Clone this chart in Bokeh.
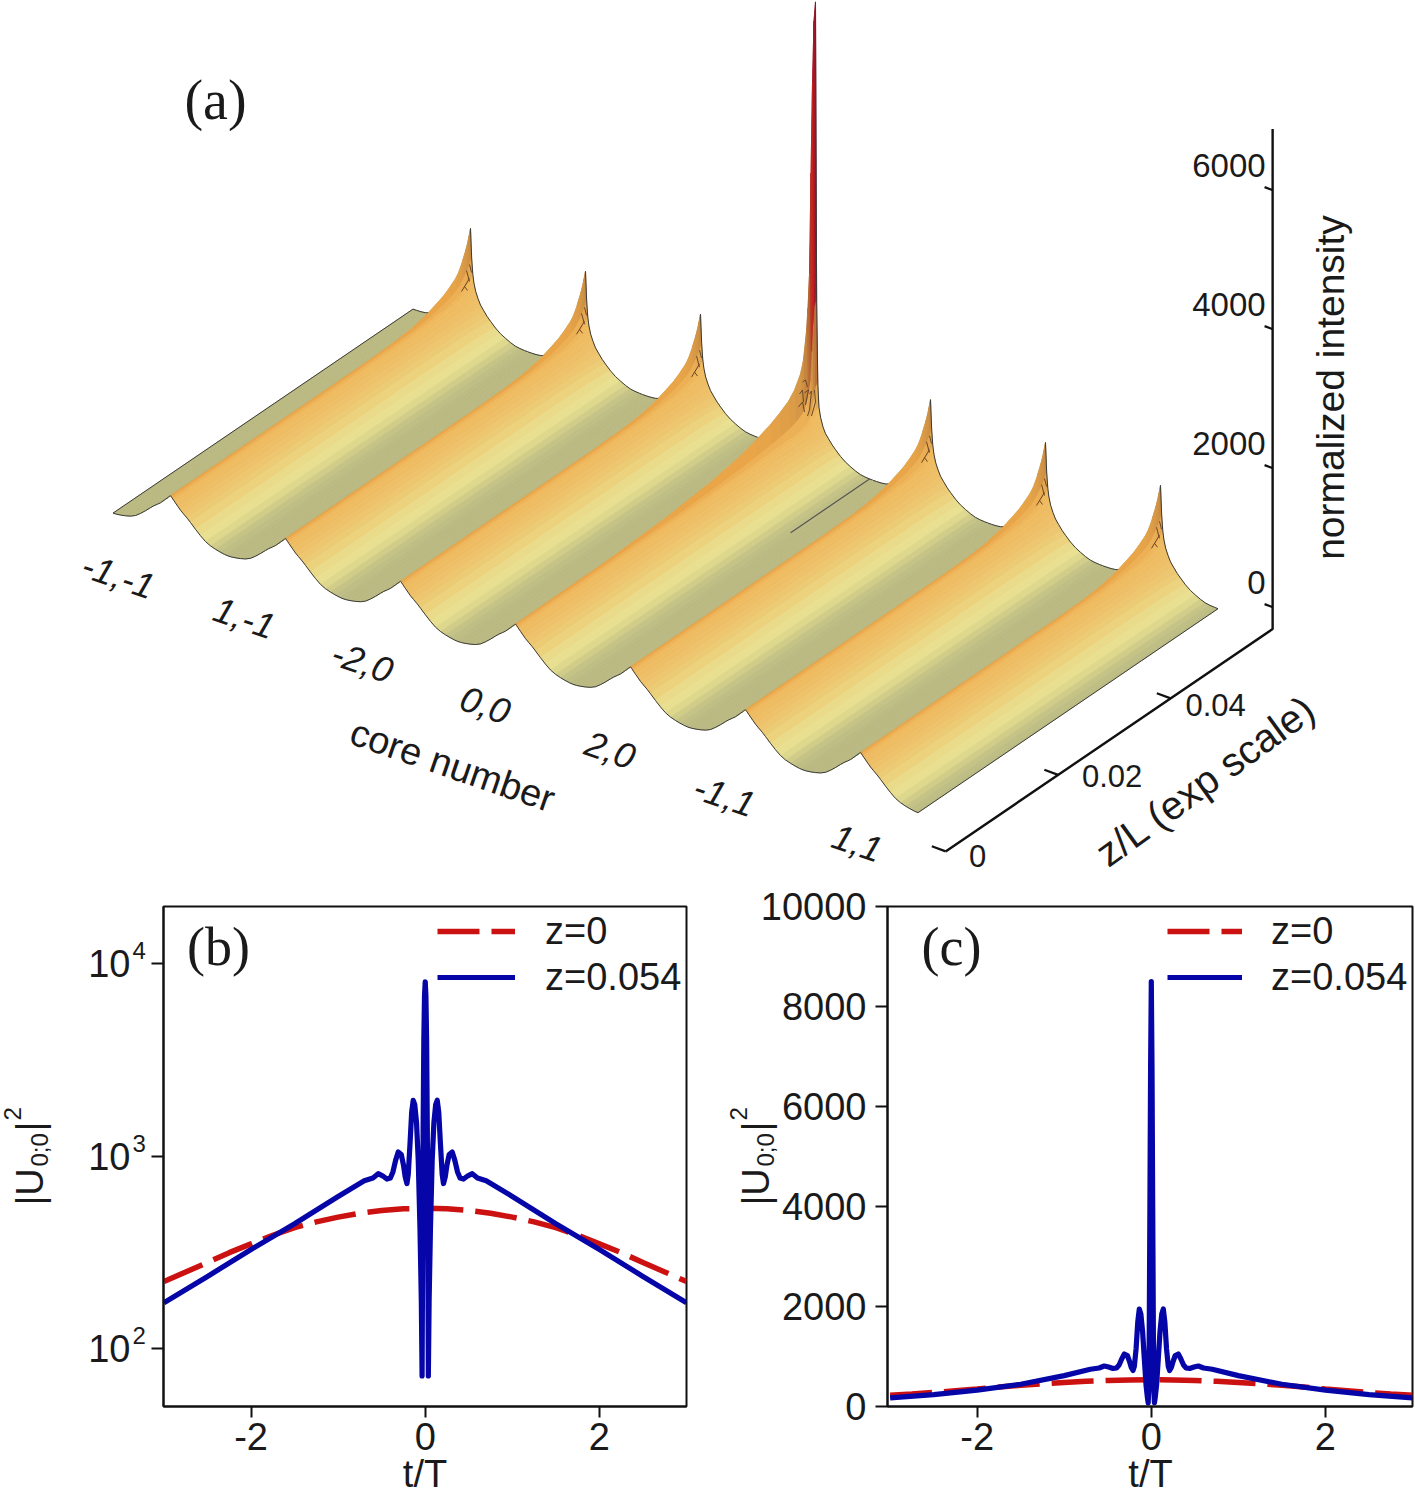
import math
from bokeh.plotting import figure
from bokeh.layouts import column, row
from bokeh.models import Range1d, FixedTicker, Legend, LegendItem, ColumnDataSource
from bokeh.core.properties import value
from bokeh.embed import file_html
from bokeh.resources import INLINE

# ------------------------- DATA -------------------------
core_labels = ["-1,-1", "1,-1", "-2,0", "0,0", "2,0", "-1,1", "1,1"]
intensity_ticks = [0, 2000, 4000, 6000]
z_ticks = [0, 0.02, 0.04]
z_tick_labels = ["0", "0.02", "0.04"]

# core profile across one core (offset from core centre), read from the surface
u_grid = [0, .01, .02, .03, .045, .065, .087, .113, .145, .174, .217, .26, .304, .348, .39, .43, .47, .5]
front_profile = [560, 542, 524, 505, 478, 442, 403, 367, 324, 279, 209, 144, 86, 50, 29, 14, 3, 0]
rear_profile = [1468, 1050, 820, 700, 590, 500, 420, 360, 290, 240, 170, 115, 75, 40, 15, 5, 1, 0]
rear_profile_centre = [6575, 2300, 1100, 763, 620, 500, 417, 360, 290, 240, 170, 115, 75, 40, 15, 5, 1, 0]
# growth of the crest along z
f_grid = [0, .3, .5, .65, .75, .8, .85, .88, .91, .93, .95, .96, .97, .975, .98, .985, .99, .995, 1]
crest_rise = [0, 0, 0, 4, 19, 43, 94, 144, 201, 259, 331, 388, 475, 532, 590, 647, 719, 806, 906]
crest_rise_centre = [0, 14, 58, 130, 216, 288, 374, 446, 532, 633, 806, 978, 1360, 1680, 2158, 3597, 4892, 5755, 6015]
slope_colors = ["#e9a548", "#edb055", "#efb85c", "#efbb60", "#eebd63", "#eebf66", "#eec26a", "#edc66f", "#eccb75",
                "#ecd27d", "#eadb8a", "#e8e090", "#ded88d", "#d1cd89", "#c5c386", "#bfbe84", "#bcbb83", "#bab982"]
trough_color = "#bab982"
height_stops = [740, 1150, 1500, 2000, 2400, 3500, 4800, 5600, 6600]
height_colors = [None, "#cd9145", "#bc7338", "#ad5c30", "#b83224", "#c81e1e", "#7a1030", "#4a2048", "#666666"]

t_red = [-3, -2.75, -2.5, -2.25, -2, -1.75, -1.5, -1.25, -1, -.75, -.5, -.25, 0,
         .25, .5, .75, 1, 1.25, 1.5, 1.75, 2, 2.25, 2.5, 2.75, 3]
u_red = [223, 250, 280, 315, 350, 388, 425, 455, 482, 505, 522, 532, 535,
         532, 522, 505, 482, 455, 425, 388, 350, 315, 280, 250, 223]

t_half = [0, .008, .016, .024, .03, .036, .045, .06, .08, .10, .12, .138, .155, .175, .195, .21, .23, .25, .275, .31,
          .34, .37, .40, .44, .49, .54, .60, .70, 1.0, 1.5, 2.0, 2.5, 3.0]
u_half = [8300, 6800, 4000, 1400, 300, 72, 180, 420, 950, 1500, 1850, 1950, 1700, 1150, 800, 720, 780, 900, 1020, 1050,
          950, 830, 770, 760, 790, 810, 770, 745, 617, 445, 327, 237, 173]
peak_log = 8050
peak_lin = 8500
log_range = (50, 19800)

# ------------------------- surface projection -------------------------
X0, Y0 = 170.0, 534.0
DXC, DYC = 115.0, 42.8
DXF, DYF = 300.0, 204.0
VS = 0.0695
AXIS_C = 6.975
I_ZERO = 315.0


def project(c, f, i):
    return X0 + DXC * c + DXF * f, Y0 + DYC * c - DYF * f - VS * i


def hex2rgb(h):
    return tuple(int(h[k:k + 2], 16) for k in (1, 3, 5))


def blend(a, b, w):
    ra, rb = hex2rgb(a), hex2rgb(b)
    return "#%02x%02x%02x" % tuple(int(round(x + (y - x) * w)) for x, y in zip(ra, rb))


def tint(base, i):
    if i <= height_stops[0]:
        return base
    for k in range(1, len(height_stops)):
        if i <= height_stops[k]:
            a = base if k == 1 else height_colors[k - 1]
            return blend(a, height_colors[k], (i - height_stops[k - 1]) / (height_stops[k] - height_stops[k - 1]))
    return height_colors[-1]


def height(k, j, centre):
    r = rear_profile_centre if centre else rear_profile
    cr = crest_rise_centre if centre else crest_rise
    w = cr[j] / cr[-1]
    return front_profile[k] + (r[k] - front_profile[k]) * w


TOP = figure(width=1415, height=878, x_range=Range1d(0, 1415), y_range=Range1d(878, 0),
             output_backend="svg", toolbar_location=None, min_border=0)
TOP.axis.visible = False
TOP.grid.visible = False
TOP.outline_line_color = None

LINE = "#3a3a3a"
n = len(u_grid)
m = len(f_grid)


def strip_patches(c, side):
    centre = c == 3
    xs, ys, cols = [], [], []
    rng = range(n - 1, 0, -1) if side < 0 else range(0, n - 1)
    for k in rng:
        k2 = k - 1 if side < 0 else k + 1
        for j in range(m - 2, -1, -1):
            pts = []
            for kk, jj in ((k, j), (k2, j), (k2, j + 1), (k, j + 1)):
                pts.append(project(c + side * u_grid[kk], f_grid[jj], height(kk, jj, centre)))
            mid = 0.5 * (height(k, j, centre) + height(k, j + 1, centre))
            mid = 0.5 * (mid + 0.5 * (height(k2, j, centre) + height(k2, j + 1, centre)))
            base = slope_colors[k] if side > 0 else trough_color
            xs.append([q[0] for q in pts])
            ys.append([q[1] for q in pts])
            cols.append(tint(base, mid))
    TOP.patches("xs", "ys", fill_color="cols", line_color="cols", line_width=0.7,
                source=ColumnDataSource(dict(xs=xs, ys=ys, cols=cols)))


def edge_line(c, side, j):
    centre = c == 3
    idx = list(range(n - 1, -1, -1)) if side < 0 else list(range(n))
    pts = [project(c + side * u_grid[k], f_grid[j], height(k, j, centre)) for k in idx]
    TOP.line([q[0] for q in pts], [q[1] for q in pts], line_color=LINE, line_width=1)


def long_edge(c, u):
    a = project(c + u, 0, 0)
    b = project(c + u, 1, 0)
    TOP.line([a[0], b[0]], [a[1], b[1]], line_color=LINE, line_width=1)


scribble_small = [[(-2, 42), (1, 53)], [(-7, 63), (1, 50)], [(-4, 58), (-1, 62)], [(1, 36), (3, 44)]]
scribble_centre = [[(-11, 380), (-8, 378), (-6, 385)], [(-14, 392), (-11, 388), (-10, 400)], [(-9, 391), (-5, 388), (-8, 403)],
                   [(-4, 392), (-2, 389), (-4, 408), (-6, 414)], [(1, 388), (2, 400), (-2, 414)], [(-15, 405), (-11, 400), (-9, 410)]]

for c in range(7):
    strip_patches(c, -1)
    edge_line(c, -1, 0)
    edge_line(c, -1, m - 1)
    if c == 0:
        long_edge(c, -0.5)
    strip_patches(c, 1)
    edge_line(c, 1, 0)
    edge_line(c, 1, m - 1)
    px, py = project(c, 1, rear_profile_centre[0] if c == 3 else rear_profile[0])
    for s in (scribble_centre if c == 3 else scribble_small):
        TOP.line([px - 2 + q[0] for q in s], [py + q[1] for q in s], line_color="#6a4526", line_width=1)
    if c == 3:
        a = project(3.47, .737, 0)
        b = project(3.47, 1.0, 0)
        TOP.line([a[0], b[0]], [a[1], b[1]], line_color="#555555", line_width=1.2)
    if c == 6:
        long_edge(c, 0.5)

# 3-D axes
ax_base = project(AXIS_C, 1, 0)
ax_top = project(AXIS_C, 1, 7194)
ax_front = project(AXIS_C, -0.09, 0)
TOP.line([ax_top[0], ax_base[0], ax_front[0]], [ax_top[1], ax_base[1], ax_front[1]], line_color="#111111", line_width=2.4)
for v in intensity_ticks:
    a = project(AXIS_C, 1, I_ZERO + v)
    b = project(AXIS_C - 0.07, 1, I_ZERO + v)
    TOP.line([a[0], b[0]], [a[1], b[1]], line_color="#111111", line_width=2.2)
    TOP.text([a[0] - 7], [a[1] - 25], text=[str(v)], text_align="right", text_baseline="middle",
             text_font=value("Liberation Sans"), text_font_size="33px", text_color="#1a1a1a")
z_dx = [32, 54, 45]
z_dy = [5, 1, 7]
for z, lab, dx, dy in zip(z_ticks, z_tick_labels, z_dx, z_dy):
    f = -0.09 + 18.75 * z
    a = project(AXIS_C, f, 0)
    b = project(AXIS_C - 0.12, f, 0)
    TOP.line([a[0], b[0]], [a[1], b[1]], line_color="#111111", line_width=2.2)
    TOP.text([a[0] + dx], [a[1] + dy], text=[lab], text_align="center", text_baseline="middle",
             text_font=value("Liberation Sans"), text_font_size="31px", text_color="#1a1a1a")

label_x = [118, 244, 362, 485, 610, 724, 857]
label_y = [575, 617, 661, 704, 749, 795, 842]
TOP.text(label_x, label_y, text=core_labels, angle=-19, angle_units="deg", text_align="center", text_baseline="middle",
         text_font=value("Liberation Sans"), text_font_style="italic", text_font_size="36px", text_color="#1a1a1a")


def atext(fig, x, y, s, angle=0, size="38px", font="Liberation Sans", align="center", baseline="middle"):
    fig.text([x], [y], text=[s], angle=angle, angle_units="deg", text_align=align, text_baseline=baseline,
             text_font=value(font), text_font_size=size, text_color="#1a1a1a")


atext(TOP, 452, 765, "core number", -19)
atext(TOP, 1205, 780, "z/L (exp scale)", 36, "40px")
atext(TOP, 1330, 387, "normalized intensity", 90, "39px")
atext(TOP, 215, 99, "(a)", 0, "56px", "Liberation Serif")

# ------------------------- lower panels -------------------------
t_blue = [-x for x in t_half[:0:-1]] + t_half
u_blue_tail = u_half[:0:-1]


def lower(width, left, right, xr, y_range, log, ticks, overrides, standoff, leg):
    kw = dict(y_axis_type="log") if log else {}
    p = figure(width=width, height=617, x_range=Range1d(*xr), y_range=y_range, output_backend="svg",
               toolbar_location=None, min_border_left=left, min_border_right=right, min_border_top=28,
               min_border_bottom=89, **kw)
    p.grid.visible = False
    p.outline_line_color = "#111111"
    p.outline_line_width = 2
    for ax in (p.xaxis[0], p.yaxis[0]):
        ax.axis_line_color = "#111111"
        ax.axis_line_width = 2
        ax.major_tick_line_color = "#111111"
        ax.major_tick_line_width = 2
        ax.major_tick_in = 0
        ax.minor_tick_in = 0
        ax.minor_tick_out = 0
        ax.major_label_text_font = "Liberation Sans"
        ax.major_label_text_font_size = "38px"
        ax.major_label_text_color = "#1a1a1a"
    p.xaxis.ticker = FixedTicker(ticks=[-2, 0, 2])
    p.xaxis.major_label_overrides = {-2: "-2", 0: "0", 2: "2"}
    p.xaxis.major_tick_out = 11
    p.xaxis.major_label_standoff = 5
    p.yaxis.ticker = FixedTicker(ticks=ticks)
    p.yaxis.major_tick_out = 12
    p.yaxis.major_label_standoff = standoff
    p.yaxis.major_label_orientation = "horizontal"
    p.yaxis.major_label_overrides = overrides
    peak = peak_log if log else peak_lin
    u_blue = u_blue_tail + [peak] + u_half[1:]
    r1 = p.line(t_red, u_red, line_color="#cc1111", line_width=5.5, line_dash="42 12")
    r2 = p.line(t_blue, u_blue, line_color="#0505a8", line_width=5.2, line_join="round")
    legend = Legend(items=[LegendItem(label="z=0", renderers=[r1]), LegendItem(label="z=0.054", renderers=[r2])],
                    location=(leg[0], 406), orientation="vertical", glyph_width=leg[1], glyph_height=46, label_height=46,
                    label_standoff=leg[2], spacing=0, padding=0, margin=0, border_line_color=None,
                    background_fill_alpha=0, label_text_font="Liberation Sans", label_text_font_size="38px",
                    label_text_color="#1a1a1a")
    p.add_layout(legend, "center")
    return p


B = lower(750, 163, 64, (-3.005, 3.0), Range1d(*log_range), True, [100, 1000, 10000],
          {100: "10", 1000: "10", 10000: "10"}, 21, (274, 78, 30))
C = lower(665, 137, 3, (-3.03, 3.0), Range1d(0, 10000), False, [0, 2000, 4000, 6000, 8000, 10000],
          {}, 9, (280, 75, 29))

# transparent sheet over the page for the texts that lie outside the frames
OVER = figure(width=1415, height=1495, x_range=Range1d(0, 1415), y_range=Range1d(1495, 0), output_backend="svg",
              toolbar_location=None, min_border=0, margin=(-1495, 0, 0, 0),
              background_fill_alpha=0, border_fill_alpha=0)
OVER.axis.visible = False
OVER.grid.visible = False
OVER.outline_line_color = None

atext(OVER, 218, 946, "(b)", 0, "54px", "Liberation Serif")
atext(OVER, 951, 946, "(c)", 0, "54px", "Liberation Serif")
atext(OVER, 424.5, 1473, "t/T", 0, "38px")
atext(OVER, 1150, 1473, "t/T", 0, "38px")
for bx in (29, 755):
    atext(OVER, bx, 1205, "|U", 90, "38px", align="left", baseline="alphabetic")
    atext(OVER, bx + 10, 1166, "0;0", 90, "24px", align="left", baseline="alphabetic")
    atext(OVER, bx, 1131, "|", 90, "38px", align="left", baseline="alphabetic")
    atext(OVER, bx - 17, 1120, "2", 90, "24px", align="left", baseline="alphabetic")
lo, hi = math.log10(log_range[0]), math.log10(log_range[1])
for tick, s in ((100, "2"), (1000, "3"), (10000, "4")):
    y = 906 + 500 * (hi - math.log10(tick)) / (hi - lo)
    atext(OVER, 132, y - 13, s, 0, "24px", align="left")

page = column(TOP, row(B, C, spacing=0), OVER, spacing=0)
open("out.html", "w").write(file_html(page, INLINE))
